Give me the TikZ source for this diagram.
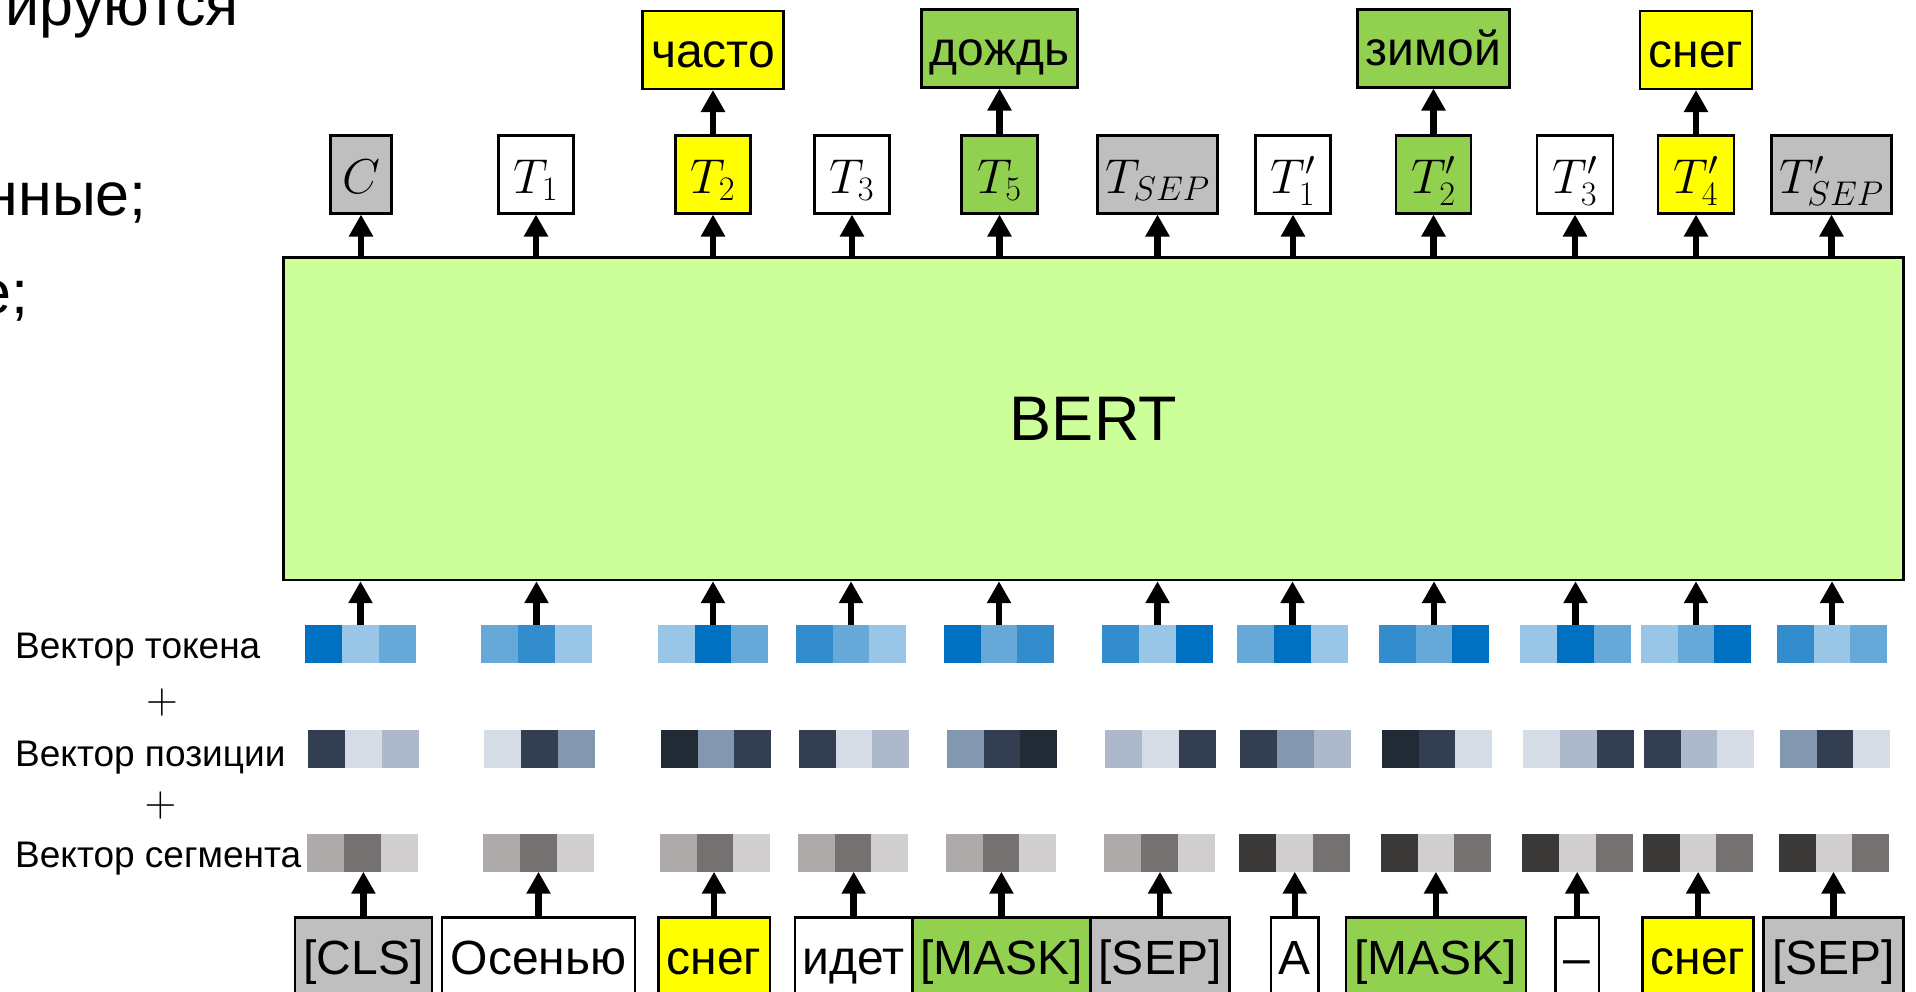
\RequirePackage{fix-cm}
\documentclass[tikz,border=0pt]{standalone}
\usepackage[no-math]{fontspec}
\setmainfont{Liberation Sans}
\usetikzlibrary{arrows.meta,positioning}
\definecolor{BertGreen}{HTML}{CCFF99}
\definecolor{MaskGreen}{HTML}{92D050}
\definecolor{HiYellow}{HTML}{FFFF00}
\definecolor{SepGray}{HTML}{BFBFBF}
\definecolor{TokDark}{HTML}{0070C0}
\definecolor{TokMid}{HTML}{338DCD}
\definecolor{TokLight}{HTML}{66A9D9}
\definecolor{TokPale}{HTML}{99C6E6}
\definecolor{PosA}{HTML}{222A35}
\definecolor{PosB}{HTML}{333F50}
\definecolor{PosC}{HTML}{8497B0}
\definecolor{PosD}{HTML}{ADB9CA}
\definecolor{PosE}{HTML}{D6DCE5}
\definecolor{SegA}{HTML}{3B3838}
\definecolor{SegB}{HTML}{767171}
\definecolor{SegC}{HTML}{AEAAAA}
\definecolor{SegD}{HTML}{D0CECE}

\begin{document}
\begin{tikzpicture}[x=1pt, y=-1pt,
  box/.style={draw, line width=2.5pt, inner sep=0pt},
  tbox/.style={box, anchor=north, text height=58pt, text depth=20pt,
               font=\fontsize{49}{54}\selectfont},
  wordbox/.style={box, text height=56.5pt, text depth=21.5pt,
                  font=\fontsize{48}{56}\selectfont},
  inbox/.style={box, anchor=north, text height=57pt, text depth=60pt,
                font=\fontsize{48}{56}\selectfont},
  veclabel/.style={anchor=base west, inner sep=0pt,
                   font=\fontsize{37}{44}\selectfont},
  plussign/.style={inner sep=0pt, font=\fontsize{44}{48}\selectfont},
  slidetext/.style={anchor=base east, inner sep=0pt,
                    font=\fontsize{61}{72}\selectfont},
  vecbox/.style={minimum width=110.7pt, minimum height=37.7pt,
                 inner sep=0pt, outer sep=0pt},
  arr/.style={-{Triangle[width=23pt,length=22pt]}, line width=6.5pt}
]
  \useasboundingbox (0,0) rectangle (1916,991);
  \clip (0,0) rectangle (1916,991);

  % text of the slide, cut by the frame
  \node[slidetext] (s1) at (239,25) {ируются};
  \node[slidetext] (s2) at (147,215) {нные;};
  \node[slidetext] (s3) at (29,313) {е;};

  % model
  \node[box, fill=BertGreen, minimum width=1619.8pt, minimum height=322.7pt,
        font=\fontsize{63}{70}\selectfont] (bert) at (1093.4,418.6) {BERT};

  % outputs
  \node[tbox, fill=SepGray, minimum width=61pt] (out1) at (361,134) {$C$};
  \node[tbox, minimum width=75pt] (out2) at (536,134) {$T_1$};
  \node[tbox, fill=HiYellow, minimum width=75pt] (out3) at (713,134) {$T_2$};
  \node[tbox, minimum width=75pt] (out4) at (852,134) {$T_3$};
  \node[tbox, fill=MaskGreen, minimum width=76pt] (out5) at (999.5,134) {$T_5$};
  \node[tbox, fill=SepGray, minimum width=120pt] (out6) at (1157.5,134) {$T_{SEP}$};
  \node[tbox, minimum width=75pt] (out7) at (1293,134) {$T'_1$};
  \node[tbox, fill=MaskGreen, minimum width=75pt] (out8) at (1433.5,134) {$T'_2$};
  \node[tbox, minimum width=76pt] (out9) at (1575,134) {$T'_3$};
  \node[tbox, fill=HiYellow, minimum width=76pt] (out10) at (1696,134) {$T'_4$};
  \node[tbox, fill=SepGray, minimum width=120pt] (out11) at (1831.5,134) {$T'_{SEP}$};

  % predicted words
  \node[wordbox, fill=HiYellow, minimum width=141pt, above=44pt of out3] (w3) {часто};
  \node[wordbox, fill=MaskGreen, minimum width=156pt, above=45.5pt of out5] (w5) {дождь};
  \node[wordbox, fill=MaskGreen, minimum width=152pt, above=45.5pt of out8] (w8) {зимой};
  \node[wordbox, fill=HiYellow, minimum width=112pt, above=44pt of out10] (w10) {снег};
  \draw[arr] (out3) -- (w3);
  \draw[arr] (out5) -- (w5);
  \draw[arr] (out8) -- (w8);
  \draw[arr] (out10) -- (w10);

  % inputs
  \node[inbox, fill=SepGray, minimum width=137pt] (inp1) at (363.4,916) {[CLS]};
  \node[inbox, fill=white, minimum width=193pt] (inp2) at (538.5,916) {Осенью};
  \node[inbox, fill=HiYellow, minimum width=111.5pt] (inp3) at (714,916) {снег};
  \node[inbox, fill=white, minimum width=117.4pt] (inp4) at (853.7,916) {идет};
  \node[inbox, fill=MaskGreen, minimum width=177.9pt] (inp5) at (1001.4,916) {[MASK]};
  \node[inbox, fill=SepGray, minimum width=139.3pt] (inp6) at (1160,916) {[SEP]};
  \node[inbox, fill=white, minimum width=47.6pt] (inp7) at (1294.8,916) {А};
  \node[inbox, fill=MaskGreen, minimum width=180pt] (inp8) at (1435.9,916) {[MASK]};
  \node[inbox, fill=white, minimum width=43.3pt] (inp9) at (1577.2,916) {–};
  \node[inbox, fill=HiYellow, minimum width=111.2pt] (inp10) at (1698.1,916) {снег};
  \node[inbox, fill=SepGray, minimum width=139.7pt] (inp11) at (1833.5,916) {[SEP]};

  % embedding labels
  \node[veclabel] (lbltok) at (15,658) {Вектор токена};
  \node[plussign] (plus1) at (162,702) {$+$};
  \node[veclabel] (lblpos) at (15,766) {Вектор позиции};
  \node[plussign] (plus2) at (160.5,805.7) {$+$};
  \node[veclabel] (lblseg) at (15,867) {Вектор сегмента};

  % embeddings: token / position / segment
  \foreach \i/\x/\ta/\tb/\tc/\pa/\pb/\pc/\sa/\sb/\sc in {
      1/362/TokDark/TokPale/TokLight/PosB/PosE/PosD/SegC/SegB/SegD,
      2/538/TokLight/TokMid/TokPale/PosE/PosB/PosC/SegC/SegB/SegD,
      3/714.5/TokPale/TokDark/TokLight/PosA/PosC/PosB/SegC/SegB/SegD,
      4/852.5/TokMid/TokLight/TokPale/PosB/PosE/PosD/SegC/SegB/SegD,
      5/1000.5/TokDark/TokLight/TokMid/PosC/PosB/PosA/SegC/SegB/SegD,
      6/1159/TokMid/TokPale/TokDark/PosD/PosE/PosB/SegC/SegB/SegD,
      7/1294/TokLight/TokDark/TokPale/PosB/PosC/PosD/SegA/SegD/SegB,
      8/1435.5/TokMid/TokLight/TokDark/PosA/PosB/PosE/SegA/SegD/SegB,
      9/1577/TokPale/TokDark/TokLight/PosE/PosD/PosB/SegA/SegD/SegB,
      10/1697.5/TokPale/TokLight/TokDark/PosB/PosD/PosE/SegA/SegD/SegB,
      11/1833.5/TokMid/TokPale/TokLight/PosC/PosB/PosE/SegA/SegD/SegB}
  {
    \node[vecbox] (tok\i) at (\x-1.5,643.85) {};
    \fill[\ta] (tok\i.north west) rectangle ++(36.9,37.7);
    \fill[\tb] ([xshift=36.9pt]tok\i.north west) rectangle ++(36.9,37.7);
    \fill[\tc] ([xshift=73.8pt]tok\i.north west) rectangle ++(36.9,37.7);
    \node[vecbox] (pos\i) at (\x+1.5,749) {};
    \fill[\pa] (pos\i.north west) rectangle ++(36.9,37.7);
    \fill[\pb] ([xshift=36.9pt]pos\i.north west) rectangle ++(36.9,37.7);
    \fill[\pc] ([xshift=73.8pt]pos\i.north west) rectangle ++(36.9,37.7);
    \node[vecbox] (seg\i) at (\x+0.5,852.85) {};
    \fill[\sa] (seg\i.north west) rectangle ++(36.9,37.7);
    \fill[\sb] ([xshift=36.9pt]seg\i.north west) rectangle ++(36.9,37.7);
    \fill[\sc] ([xshift=73.8pt]seg\i.north west) rectangle ++(36.9,37.7);
    \draw[arr] (tok\i.north) -- (tok\i.north |- bert.south);
    \draw[arr] (inp\i.north) -- (inp\i.north |- seg\i.south);
    \draw[arr] (out\i.south |- bert.north) -- (out\i.south);
  }
\end{tikzpicture}
\end{document}
